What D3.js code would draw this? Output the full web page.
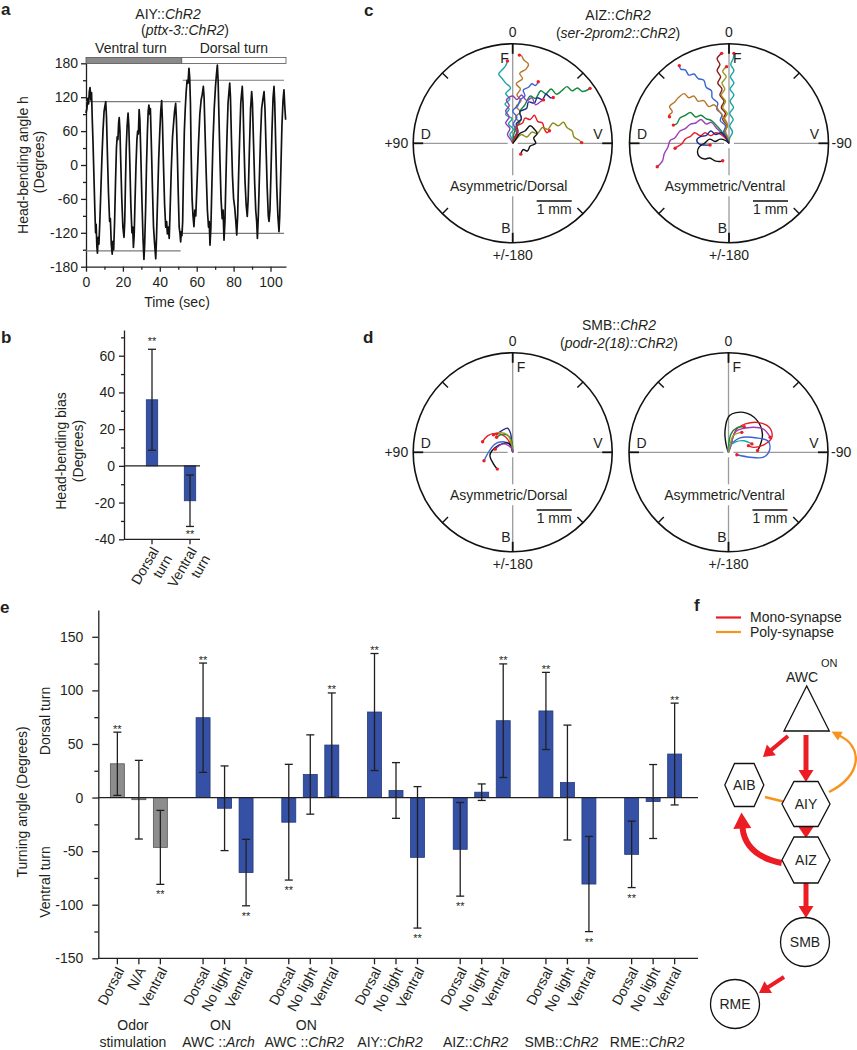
<!DOCTYPE html>
<html><head><meta charset="utf-8">
<script src="https://cdn.jsdelivr.net/npm/d3@7"></script>
<style>
body{margin:0;background:#fff}
svg{display:block;font-family:"Liberation Sans",Arial,Helvetica,sans-serif}
</style></head><body>
<svg id="fig" width="857" height="1050"></svg>
<script>
// ---------------- DATA ----------------
// Panel a: head-bending trace (time s, angle deg)
const traceT = [0,0.5,1,1.4,1.8,2.2,2.6,3,3.4,3.8,4.3,4.8,5.2,5.5,5.9,6.2,6.6,7,7.5,8,8.6,9.2,9.8,10.3,10.7,11.1,11.6,12.2,12.8,13.2,13.7,14.2,14.6,15,15.5,16,16.5,16.9,17.3,17.7,18,18.4,18.8,19.4,20,20.6,21,21.4,21.8,22.3,22.8,23.2,23.7,24.3,24.9,25.3,25.7,26.1,26.6,27.1,27.6,28,28.4,28.8,29.2,29.7,30.3,30.9,31.4,31.8,32.3,32.8,33.3,33.7,34.1,34.5,34.9,35.4,36,36.6,37.2,37.8,38.2,38.8,39.4,40,40.5,41,41.4,42,42.6,43.2,43.7,44.1,44.6,45.1,45.5,46.2,46.9,47.5,48,48.6,49,49.5,50,50.5,50.9,51.3,51.7,
52,52.4,52.8,53.3,53.8,54.3,54.8,55.3,55.8,56.2,56.6,57,57.5,58,58.5,59,59.5,60.2,61,61.7,62.4,63,63.6,64,64.5,65.2,65.8,66.4,66.8,67.2,67.7,68.2,68.8,69.5,70.2,70.7,71.2,71.6,72.1,72.6,73.2,73.8,74.3,74.8,75.3,75.8,76.4,77,77.5,77.9,78.3,78.8,79.4,80,80.6,81.2,81.7,82.2,82.7,83.3,83.9,84.3,84.7,85.1,85.6,86.2,86.8,87.4,87.9,88.5,89.2,89.8,90.2,90.8,91.4,92,92.5,92.9,93.4,94,94.6,95.2,95.8,96.5,97,97.6,98.2,98.8,99.2,99.7,100.2,100.8,101.4,101.9,102.3,102.8,103.4,104,104.6,105,105.6,106.2,106.8,107.3,107.8,108.2];
const traceH = [92,100,118,108,130,137,115,128,80,40,-20,-80,-120,-105,-145,-156,-128,-140,-100,-50,10,60,95,105,112,85,20,-50,-100,-95,-140,-158,-135,-150,-100,-30,30,50,45,75,84,60,10,-60,-110,-128,-100,-30,30,70,92,70,10,-70,-120,-110,-146,-125,-60,0,45,60,55,98,80,20,-60,-130,-167,-140,-80,0,60,95,106,90,100,40,-40,-110,-140,-166,-130,-60,10,60,95,114,80,0,-70,-110,-100,-122,-110,-130,-90,-10,50,75,95,109,80,20,-50,-110,-120,-136,-118,
-125,-100,-20,60,100,130,150,145,171,155,110,20,-60,-90,-109,-80,-90,-30,40,90,115,125,139,120,60,-20,-80,-110,-100,-142,-110,-40,40,100,140,160,177,150,80,10,-60,-95,-80,-133,-100,-30,50,110,130,145,120,50,-20,-60,-75,-100,-124,-90,-20,50,110,125,139,110,40,-30,-70,-91,-60,20,100,130,110,40,-30,-80,-100,-130,-90,-20,50,100,115,130,100,30,-40,-90,-100,-80,-20,60,120,139,110,40,-40,-90,-118,-90,-10,70,115,133,100,80];
const aYMajor = [-180,-120,-60,0,60,120,180];
const aYMinor = [-150,-90,-30,30,90,150];
const aXMajor = [0,20,40,60,80,100];
const aXMinor = [10,30,50,70,90];
const aPhaseBounds = [0, 51.9, 108.4];          // ventral | dorsal stimulation bar
const aPhaseNames = ["Ventral turn", "Dorsal turn"];
const aRefStart = [0, 52.4], aRefEnd = [51.3, 107.3];
const aRefHigh = [112, 150], aRefLow = [-152, -121];

// Panel b
const bCats = [["Dorsal","turn"],["Ventral","turn"]];
const bMeans = [36, -19];
const bSD = [27.5, 14];
const bYMajor = [-40,-20,0,20,40,60];
const bYMinor = [-30,-10,10,30,50,70];

// Panel c / d trajectories (mm, x right, y up, relative to start point)
const cLeftTracks = [
 [[0,0.1],[-0.08,0.25],[0.02,0.4],[-0.12,0.55],[-0.02,0.7],[-0.2,0.82],[-0.1,0.98],[-0.22,1.12],[-0.08,1.27],[-0.2,1.42],[-0.06,1.58],[-0.2,1.72],[-0.3,1.85],[-0.4,1.98],[-0.3,2.1],[-0.2,2.22],[-0.15,2.35]],
 [[0.05,0.1],[0.15,0.25],[0.05,0.42],[0.2,0.58],[0.08,0.75],[0.22,0.9],[0.1,1.05],[0.24,1.22],[0.12,1.38],[0.22,1.55],[0.1,1.7],[0.28,1.85],[0.2,2.0],[0.38,2.12],[0.45,2.26],[0.32,2.38],[0.25,2.5],[0.19,2.52]],
 [[0.04,0.29],[0.15,0.55],[0.25,0.70],[0.20,0.90],[0.35,1.10],[0.50,1.35],[0.65,1.28],[0.80,1.50],[0.95,1.42],[1.10,1.55],[1.25,1.40],[1.40,1.50],[1.55,1.62],[1.70,1.50],[1.85,1.58],[2.00,1.48],[2.21,1.57]],
 [[0.05,0.15],[0.12,0.35],[0.02,0.55],[0.12,0.75],[0.0,0.92],[0.15,1.08],[0.22,1.25],[0.35,1.35],[0.3,1.52],[0.45,1.6],[0.55,1.7],[0.65,1.65],[0.73,1.76]],
 [[0.05,0.15],[0.15,0.35],[0.1,0.55],[0.25,0.7],[0.2,0.9],[0.4,1.0],[0.45,1.18],[0.62,1.15],[0.7,1.3],[0.85,1.25],[0.95,1.4],[1.08,1.3],[1.16,1.31]],
 [[-0.05,0.1],[-0.15,0.25],[-0.08,0.42],[-0.2,0.58],[-0.1,0.75],[-0.2,0.92],[-0.1,1.08],[-0.18,1.24],[0.0,1.35],[0.12,1.25],[0.25,1.38],[0.4,1.22],[0.55,1.3],[0.65,1.1],[0.78,1.18],[0.88,1.24]],
 [[0.05,0.15],[0.15,0.32],[0.1,0.48],[0.28,0.58],[0.35,0.72],[0.5,0.68],[0.62,0.8],[0.72,0.62],[0.85,0.58],[0.9,0.42],[0.98,0.3],[1.05,0.36]],
 [[0.1,0.12],[0.25,0.25],[0.4,0.18],[0.55,0.32],[0.7,0.28],[0.85,0.45],[1.0,0.4],[1.15,0.58],[1.3,0.5],[1.45,0.6],[1.55,0.45],[1.7,0.35],[1.75,0.18],[1.88,0.1],[1.97,0.02]],
 [[0.08,0.1],[0.2,0.28],[0.35,0.35],[0.5,0.5],[0.62,0.4],[0.7,0.28],[0.6,0.15],[0.66,0.0],[0.5,-0.08],[0.42,-0.22],[0.3,-0.18],[0.23,-0.31]]
];
const cRightTracks = [
 [[0.02,0.15],[0.1,0.32],[0.02,0.5],[0.12,0.68],[0.02,0.85],[0.13,1.02],[0.03,1.2],[0.14,1.38],[0.03,1.55],[0.14,1.72],[0.04,1.9],[0.14,2.08],[0.05,2.25],[0.12,2.42],[0.14,2.57]],
 [[-0.05,0.15],[-0.14,0.32],[-0.06,0.5],[-0.18,0.68],[-0.1,0.85],[-0.22,1.02],[-0.14,1.2],[-0.26,1.38],[-0.2,1.55],[-0.32,1.72],[-0.24,1.9],[-0.34,2.08],[-0.26,2.25],[-0.34,2.42],[-0.21,2.57]],
 [[-0.03,0.15],[-0.12,0.32],[-0.04,0.5],[-0.14,0.68],[-0.05,0.85],[-0.18,1.02],[-0.1,1.2],[-0.22,1.38],[-0.12,1.55],[-0.2,1.72],[-0.08,1.9],[-0.18,2.05],[-0.07,2.19]],
 [[-0.05,0.15],[-0.15,0.32],[-0.1,0.5],[-0.25,0.65],[-0.2,0.82],[-0.35,0.98],[-0.32,1.15],[-0.48,1.3],[-0.5,1.5],[-0.65,1.6],[-0.72,1.8],[-0.88,1.85],[-1.0,1.98],[-1.15,1.95],[-1.25,2.1],[-1.38,2.12],[-1.42,2.22]],
 [[-0.03,0.15],[-0.1,0.35],[-0.05,0.55],[-0.16,0.75],[-0.3,0.95],[-0.42,1.1],[-0.58,1.05],[-0.72,1.22],[-0.88,1.2],[-1.0,1.35],[-1.15,1.3],[-1.28,1.42],[-1.45,1.3],[-1.55,1.18],[-1.7,1.05],[-1.62,0.9],[-1.72,0.8],[-1.7,0.76]],
 [[-0.07,0.12],[-0.2,0.28],[-0.35,0.42],[-0.5,0.6],[-0.65,0.55],[-0.8,0.68],[-0.95,0.58],[-1.1,0.55],[-1.25,0.42],[-1.4,0.35],[-1.55,0.15],[-1.68,0.08],[-1.75,-0.12],[-1.85,-0.3],[-1.9,-0.5],[-2.05,-0.67]],
 [[-0.08,0.15],[-0.22,0.35],[-0.35,0.5],[-0.5,0.65],[-0.65,0.7],[-0.8,0.8],[-0.95,0.75],[-1.1,0.88],[-1.25,0.8],[-1.4,0.72],[-1.5,0.55],[-1.59,0.52]],
 [[-0.08,0.12],[-0.22,0.25],[-0.38,0.3],[-0.52,0.22],[-0.68,0.3],[-0.82,0.22],[-0.98,0.3],[-1.1,0.2],[-1.25,0.12],[-1.35,-0.02],[-1.45,-0.08],[-1.54,-0.14]],
 [[-0.1,0.08],[-0.25,0.12],[-0.4,0.05],[-0.55,0.12],[-0.7,0.0],[-0.85,-0.1],[-0.9,-0.25],[-0.85,-0.38],[-0.7,-0.45],[-0.55,-0.42],[-0.4,-0.5],[-0.26,-0.52],[-0.18,-0.5]],
 [[-0.08,0.15],[-0.22,0.3],[-0.38,0.25],[-0.52,0.35],[-0.66,0.22],[-0.8,0.2],[-0.92,0.1],[-0.85,-0.02],[-0.7,-0.05],[-0.54,-0.05]]
];
const dLeftTracks = [
 [[-0.03,0.16],[-0.22,0.45],[-0.50,0.54],[-0.72,0.47],[-0.86,0.30]],
 [[-0.06,0.21],[-0.27,0.30],[-0.50,0.24],[-0.68,0.02],[-0.82,-0.24]],
 [[-0.12,0.26],[-0.46,0.16],[-0.65,-0.08],[-0.55,-0.33],[-0.44,-0.48]],
 [[-0.03,0.26],[-0.06,0.54],[-0.15,0.69],[-0.31,0.62],[-0.46,0.52]],
 [[0,0.16],[-0.08,0.43],[-0.27,0.52],[-0.46,0.43]],
 [[-0.03,0.24],[-0.15,0.50],[-0.41,0.56],[-0.55,0.50]],
 [[-0.02,0.11],[-0.27,0.24],[-0.50,0.09]]
];
const dRightTracks = [
 [[-0.05,0.14],[-0.10,0.62],[0.03,1.05],[0.43,1.14],[0.81,0.92],[0.97,0.52],[0.90,0.19],[0.83,0.05]],
 [[0.05,0.14],[0.24,0.67],[0.76,0.86],[1.17,0.71],[1.24,0.43],[1.02,0.22],[0.71,0.14],[0.57,0.19]],
 [[0,0.14],[0.33,0.41],[0.81,0.41],[1.14,0.31],[1.17,0.05],[1.00,-0.14],[0.62,-0.14],[0.24,-0.07]],
 [[0.05,0.14],[0.22,0.60],[0.62,0.71],[1.00,0.66],[1.19,0.43]],
 [[0,0.14],[0.07,0.52],[0.26,0.71],[0.45,0.73]],
 [[0,0.14],[0.19,0.29],[0.43,0.33],[0.67,0.24]],
 [[0.03,0.14],[0.14,0.48],[0.38,0.57]]
];

// Panel e
const eGroupsTop = ["Odor","ON","ON","","","",""];
const eGroupsBottom = [[["stimulation"]],[["AWC ::"],["Arch",1]],[["AWC ::"],["ChR2",1]],[["AIY::"],["ChR2",1]],[["AIZ::"],["ChR2",1]],[["SMB::"],["ChR2",1]],[["RME::"],["ChR2",1]]];
const eConds = [["Dorsal","N/A","Ventral"],["Dorsal","No light","Ventral"],["Dorsal","No light","Ventral"],["Dorsal","No light","Ventral"],["Dorsal","No light","Ventral"],["Dorsal","No light","Ventral"],["Dorsal","No light","Ventral"]];
const eMeans = [31.5,-2,-46.5, 74.5,-10,-70, -23,21.5,49, 79.8,6.6,-55.8, -48.3,5,71.7, 80.8,14,-80.7, -53,-3.7,40.6];
const eSD    = [29.5,36.7,34.5, 51,39.5,31, 54,37,48.6, 54.6,26,66, 43.7,7.7,53, 36,53.6,44.4, 31,34.5,47.5];
const eSig   = [1,0,1, 1,0,1, 1,0,1, 1,0,1, 1,0,1, 1,0,1, 1,0,1];
const eYMajor = [-150,-100,-50,0,50,100,150];
const eYMinor = [-125,-75,-25,25,75,125];

// Panel f
const fLegend = [["Mono-synapse","mono"],["Poly-synapse","poly"]];
const fHexNodes = ["AIB","AIY","AIZ"];
const fCircleNodes = ["SMB","RME"];

// ---------------- DRAWING ----------------
const svg = d3.select("#fig");
svg.append("rect").attr("width",857).attr("height",1050).attr("fill","#fff");
const INK = "#231f20";
const BLUE = "#3451a6", BLUE_EDGE = "#23397a";
const GRAY = "#8d8d8d", GRAY_EDGE = "#555";
const RED = "#ec1c24", ORANGE = "#f7941d";

function label(x, y, parts, o = {}) {
  const t = svg.append("text").attr("x", x).attr("y", y)
    .attr("font-size", o.size || 14).attr("text-anchor", o.anchor || "middle")
    .attr("fill", INK);
  if (o.weight) t.attr("font-weight", o.weight);
  if (o.transform) t.attr("transform", o.transform);
  const arr = typeof parts === "string" ? [[parts]] : parts;
  arr.forEach(p => t.append("tspan").text(p[0]).attr("font-style", p[1] ? "italic" : null));
  return t;
}
function styleAxis(g, size) {
  g.attr("font-family", null).attr("font-size", null);
  g.selectAll("path.domain").attr("stroke", INK).attr("stroke-width", 1.3);
  g.selectAll(".tick line").attr("stroke", INK).attr("stroke-width", 1.3);
  g.selectAll(".tick text").attr("font-size", size || 14).attr("fill", INK);
}

// ===== Panel a =====
const aX = d3.scaleLinear().domain([0,108.4]).range([86,286]);
const aY = d3.scaleLinear().domain([-180,180]).range([266.7,63.3]);
label(1, 15, "a", {anchor:"start", weight:"bold", size:17});
label(168, 19, [["AIY::"],["ChR2",1]]);
label(185, 35, [["("],["pttx-3::ChR2",1],[")"]]);
aPhaseNames.forEach((n,i) => label((aX(aPhaseBounds[i])+aX(aPhaseBounds[i+1]))/2 + (i===0?-3:0), 53, n));
aPhaseNames.forEach((n,i) => svg.append("rect")
  .attr("x", aX(aPhaseBounds[i])).attr("y", 57.5)
  .attr("width", aX(aPhaseBounds[i+1]) - aX(aPhaseBounds[i])).attr("height", 6)
  .attr("fill", i===0 ? "#8a8a8a" : "#fff").attr("stroke", "#555").attr("stroke-width", 0.8));
{
  const gy = svg.append("g").attr("transform","translate(86,0)")
    .call(d3.axisLeft(aY).tickValues(aYMajor).tickSize(5).tickSizeOuter(0).tickPadding(3).tickFormat(d => String(d)));
  styleAxis(gy);
  const gy2 = svg.append("g").attr("transform","translate(86,0)")
    .call(d3.axisLeft(aY).tickValues(aYMinor).tickSize(3).tickFormat(""));
  styleAxis(gy2); gy2.select("path.domain").remove();
  const gx = svg.append("g").attr("transform","translate(0,266.7)")
    .call(d3.axisBottom(aX).tickValues(aXMajor).tickSize(5).tickSizeOuter(0).tickPadding(5).tickFormat(d => String(d)));
  styleAxis(gx);
  const gx2 = svg.append("g").attr("transform","translate(0,266.7)")
    .call(d3.axisBottom(aX).tickValues(aXMinor).tickSize(3).tickFormat(""));
  styleAxis(gx2); gx2.select("path.domain").remove();
}
aRefStart.forEach((s,i) => {
  [aRefHigh[i], aRefLow[i]].forEach(v => svg.append("line")
    .attr("x1", aX(s)).attr("x2", aX(aRefEnd[i])).attr("y1", aY(v)).attr("y2", aY(v))
    .attr("stroke", "#7a7a7a").attr("stroke-width", 1.2));
});
svg.append("path").datum(traceT.map((t,i) => [t, traceH[i]]))
  .attr("d", d3.line().x(d => aX(d[0])).y(d => aY(d[1])))
  .attr("fill","none").attr("stroke","#111").attr("stroke-width",1.7).attr("stroke-linejoin","round");
label(0, 0, "Head-bending angle h", {transform:"translate(28,165) rotate(-90)"});
label(0, 0, "(Degrees)", {transform:"translate(44,162) rotate(-90)"});
label(177, 307, "Time (sec)");

// ===== Panel b =====
const bY = d3.scaleLinear().domain([-40,74]).range([539.3,330]);
const bX = d3.scaleBand().domain([0,1]).range([133,209]).paddingInner(0.7).paddingOuter(0.35);
label(1, 343, "b", {anchor:"start", weight:"bold", size:17});
{
  const gy = svg.append("g").attr("transform","translate(124,0)")
    .call(d3.axisLeft(bY).tickValues(bYMajor).tickSize(5).tickSizeOuter(0).tickPadding(4).tickFormat(d => String(d)));
  styleAxis(gy);
  const gy2 = svg.append("g").attr("transform","translate(124,0)")
    .call(d3.axisLeft(bY).tickValues(bYMinor).tickSize(3).tickFormat(""));
  styleAxis(gy2); gy2.select("path.domain").remove();
  svg.append("line").attr("x1",124).attr("x2",200).attr("y1",bY(-40)).attr("y2",bY(-40)).attr("stroke",INK).attr("stroke-width",1.3);
}
bMeans.forEach((m,i) => {
  const x = bX(i), w = bX.bandwidth(), cx = x + w/2;
  svg.append("rect").attr("x", x).attr("width", w)
    .attr("y", bY(Math.max(0,m))).attr("height", Math.abs(bY(m)-bY(0)))
    .attr("fill", BLUE).attr("stroke", BLUE_EDGE).attr("stroke-width", 0.8);
  const hi = m + bSD[i], lo = m - bSD[i];
  svg.append("line").attr("x1",cx).attr("x2",cx).attr("y1",bY(hi)).attr("y2",bY(lo)).attr("stroke",INK).attr("stroke-width",1.3);
  [hi,lo].forEach(v => svg.append("line").attr("x1",cx-4).attr("x2",cx+4).attr("y1",bY(v)).attr("y2",bY(v)).attr("stroke",INK).attr("stroke-width",1.3));
  if (m > 0) label(cx, bY(hi) - 4, "**", {size:11});
  else label(cx, bY(lo) + 12, "**", {size:11});
  svg.append("line").attr("x1",cx).attr("x2",cx).attr("y1",bY(-40)).attr("y2",bY(-40)+5).attr("stroke",INK).attr("stroke-width",1.3);
  const t = svg.append("text").attr("text-anchor","end").attr("font-size",14).attr("fill",INK)
    .attr("transform",`translate(${cx+3},${bY(-40)+9}) rotate(-60)`);
  t.append("tspan").attr("x",0).attr("dy","0.35em").text(bCats[i][0]);
  t.append("tspan").attr("x",0).attr("dy","1.1em").text(bCats[i][1]);
});
svg.append("line").attr("x1",124).attr("x2",200).attr("y1",bY(0)).attr("y2",bY(0)).attr("stroke",INK).attr("stroke-width",1.3);
label(0, 0, "Head-bending bias", {transform:"translate(66,451) rotate(-90)"});
label(0, 0, "(Degrees)", {transform:"translate(83,451) rotate(-90)"});

// ===== Panels c, d =====
const R = 99.5;
const mm = d3.scaleLinear().domain([0,1]).range([0,35]);
const cLeftColors  = ["#1aa5a5","#b5782b","#11883c","#3b63d4","#1f2a8a","#8e3fb3","#e3202a","#8c8c1e","#111111"];
const cRightColors = ["#1aa5a5","#8b1a1a","#9a9a1e","#3b63d4","#b5782b","#9b3fb8","#11883c","#e3202a","#111111","#1f2a8a"];
const dLeftColors  = ["#e3202a","#3b6fd4","#111111","#1f2a8a","#11883c","#9a9a1e","#9b3fb8"];
const dRightColors = ["#111111","#e3202a","#3b63d4","#9b3fb8","#11883c","#1aa5a5","#9a9a1e"];

function polarPanel(cx, cy, tracks, colors, o) {
  const g = svg.append("g");
  const gap = 5;
  [[cx-R,cy,cx-gap,cy],[cx+gap,cy,cx+R,cy],[cx,cy-R,cx,cy-gap],[cx,cy+gap,cx,cy+R]].forEach(s =>
    g.append("line").attr("x1",s[0]).attr("y1",s[1]).attr("x2",s[2]).attr("y2",s[3]).attr("stroke","#9b9b9b").attr("stroke-width",1.3));
  const line = d3.line().x(p => cx + mm(p[0])).y(p => cy - mm(p[1])).curve(d3.curveCatmullRom.alpha(0.5));
  tracks.forEach((t,i) => {
    g.append("path").attr("d", line([[0,0]].concat(t))).attr("fill","none")
      .attr("stroke", colors[i % colors.length]).attr("stroke-width", 1.4).attr("stroke-linejoin","round");
  });
  tracks.forEach(t => {
    const p = t[t.length-1];
    g.append("circle").attr("cx", cx + mm(p[0])).attr("cy", cy - mm(p[1])).attr("r", 1.7).attr("fill", "#ee1c25");
  });
  g.append("circle").attr("cx",cx).attr("cy",cy).attr("r",R).attr("fill","none").attr("stroke","#111").attr("stroke-width",1.6);
  [0,90,180,270].forEach(a => {
    const rad = a*Math.PI/180;
    g.append("line").attr("x1",cx+R*Math.sin(rad)).attr("y1",cy-R*Math.cos(rad))
      .attr("x2",cx+(R-10)*Math.sin(rad)).attr("y2",cy-(R-10)*Math.cos(rad)).attr("stroke","#111").attr("stroke-width",1.8);
  });
  [45,135,225,315].forEach(a => {
    const rad = a*Math.PI/180;
    g.append("line").attr("x1",cx+R*Math.sin(rad)).attr("y1",cy-R*Math.cos(rad))
      .attr("x2",cx+(R-8)*Math.sin(rad)).attr("y2",cy-(R-8)*Math.cos(rad)).attr("stroke","#111").attr("stroke-width",1.4);
  });
  const asym = label(cx-4, cy+47.5, o.asym);
  const len = asym.node().getComputedTextLength();
  svg.insert("rect", () => asym.node()).attr("x", cx-4-len/2-2).attr("y", cy+32).attr("width", len+4).attr("height", 21).attr("fill","#fff");
  label(cx, cy-106.5, "0");
  label(cx, cy+116.5, "+/-180");
  label(o.fRight ? cx+4 : cx-4, cy-80, "F", {anchor: o.fRight ? "start" : "end"});
  label(cx-92, cy-4, "D", {anchor:"start"});
  label(cx+90, cy-4, "V", {anchor:"end"});
  label(cx-2, cy+90, "B", {anchor:"end"});
  if (o.left) label(cx-R-5, cy+5, "+90", {anchor:"end"});
  else label(cx+R+3, cy+5, "-90", {anchor:"start"});
  g.append("line").attr("x1",cx+24).attr("x2",cx+24+mm(1)).attr("y1",cy+57.7).attr("y2",cy+57.7).attr("stroke","#111").attr("stroke-width",1.3);
  label(cx+24+mm(1)/2, cy+70.5, "1 mm");
}
label(364, 16, "c", {anchor:"start", weight:"bold", size:17});
label(618, 20, [["AIZ::"],["ChR2",1]]);
label(618, 38, [["("],["ser-2prom2::ChR2",1],[")"]]);
polarPanel(512.7, 143.3, cLeftTracks, cLeftColors, {asym:"Asymmetric/Dorsal", left:true, fRight:false});
polarPanel(729, 143.3, cRightTracks, cRightColors, {asym:"Asymmetric/Ventral", left:false, fRight:true});
label(363, 343, "d", {anchor:"start", weight:"bold", size:17});
label(619, 330, [["SMB::"],["ChR2",1]]);
label(619, 348, [["("],["podr-2(18)::ChR2",1],[")"]]);
polarPanel(512.7, 452.3, dLeftTracks, dLeftColors, {asym:"Asymmetric/Dorsal", left:true, fRight:true});
polarPanel(728.5, 452.3, dRightTracks, dRightColors, {asym:"Asymmetric/Ventral", left:false, fRight:true});

// ===== Panel e =====
const eY = d3.scaleLinear().domain([-150,175]).range([958.3,610]);
const eG = d3.scaleBand().domain(d3.range(7)).range([96,696]);
const eS = d3.scaleBand().domain([0,1,2]).range([-32.25,32.25]).paddingInner(0.35).paddingOuter(0.175);
label(0, 613, "e", {anchor:"start", weight:"bold", size:17});
{
  const gy = svg.append("g").attr("transform","translate(98.3,0)")
    .call(d3.axisLeft(eY).tickValues(eYMajor).tickSize(6).tickSizeOuter(0).tickPadding(9).tickFormat(d => String(d)));
  styleAxis(gy);
  const gy2 = svg.append("g").attr("transform","translate(98.3,0)")
    .call(d3.axisLeft(eY).tickValues(eYMinor).tickSize(4).tickFormat(""));
  styleAxis(gy2); gy2.select("path.domain").remove();
  svg.append("line").attr("x1",98.3).attr("x2",698).attr("y1",eY(-150)).attr("y2",eY(-150)).attr("stroke",INK).attr("stroke-width",1.3);
}
eMeans.forEach((m,k) => {
  const gi = Math.floor(k/3), si = k % 3;
  const x = eG(gi) + eG.bandwidth()/2 + eS(si), w = eS.bandwidth(), cx = x + w/2;
  svg.append("rect").attr("x", x).attr("width", w)
    .attr("y", eY(Math.max(0,m))).attr("height", Math.abs(eY(m)-eY(0)))
    .attr("fill", gi===0 ? GRAY : BLUE).attr("stroke", gi===0 ? GRAY_EDGE : BLUE_EDGE).attr("stroke-width", 0.8);
  const hi = m + eSD[k], lo = m - eSD[k];
  svg.append("line").attr("x1",cx).attr("x2",cx).attr("y1",eY(hi)).attr("y2",eY(lo)).attr("stroke",INK).attr("stroke-width",1.3);
  [hi,lo].forEach(v => svg.append("line").attr("x1",cx-4).attr("x2",cx+4).attr("y1",eY(v)).attr("y2",eY(v)).attr("stroke",INK).attr("stroke-width",1.3));
  if (eSig[k]) {
    if (m > 0) label(cx, eY(hi) + 0.5, "**", {size:11});
    else label(cx, eY(lo) + 14, "**", {size:11});
  }
  svg.append("line").attr("x1",cx).attr("x2",cx).attr("y1",eY(-150)).attr("y2",eY(-150)+6).attr("stroke",INK).attr("stroke-width",1.3);
  label(0, 0, eConds[gi][si], {anchor:"end", size:14, transform:`translate(${cx+3},${eY(-150)+10}) rotate(-62)`}).attr("dy","0.35em");
});
svg.append("line").attr("x1",98.3).attr("x2",698).attr("y1",eY(0)).attr("y2",eY(0)).attr("stroke",INK).attr("stroke-width",1.3);
eGroupsTop.forEach((t,gi) => {
  const c = eG(gi) + eG.bandwidth()/2 - 6;
  if (t) label(c + (gi===0 ? 0 : 2), 1030, t);
  label(c, 1046.5, eGroupsBottom[gi]);
});
label(0, 0, "Turning angle (Degrees)", {transform:"translate(27,802) rotate(-90)"});
label(0, 0, "Dorsal turn", {transform:"translate(50,721) rotate(-90)"});
label(0, 0, "Ventral turn", {transform:"translate(50,882) rotate(-90)"});

// ===== Panel f =====
label(694, 611, "f", {anchor:"start", weight:"bold", size:17});
fLegend.forEach((l,i) => {
  const y = 617.5 + i*14.5;
  svg.append("line").attr("x1",716).attr("x2",741).attr("y1",y).attr("y2",y)
    .attr("stroke", l[1]==="mono" ? RED : ORANGE).attr("stroke-width",2.2);
  label(750, y + 4.5, l[0], {anchor:"start", size:14});
});
function arrowHead(tipX, tipY, fromX, fromY, len, halfW, color) {
  const a = Math.atan2(tipY-fromY, tipX-fromX);
  const bx = tipX - len*Math.cos(a), by = tipY - len*Math.sin(a);
  const px = -Math.sin(a)*halfW, py = Math.cos(a)*halfW;
  svg.append("polygon").attr("points", `${tipX},${tipY} ${bx+px},${by+py} ${bx-px},${by-py}`).attr("fill", color);
}
function straightArrow(x1,y1,x2,y2,w,len,halfW,color) {
  const a = Math.atan2(y2-y1, x2-x1);
  svg.append("line").attr("x1",x1).attr("y1",y1).attr("x2",x2-(len-1)*Math.cos(a)).attr("y2",y2-(len-1)*Math.sin(a))
    .attr("stroke",color).attr("stroke-width",w);
  arrowHead(x2,y2,x1,y1,len,halfW,color);
}
const nodeStyle = s => s.attr("fill","#fff").attr("stroke","#111").attr("stroke-width",1.3);
nodeStyle(svg.append("polygon").attr("points","806.7,686 784,731 829.3,731"));
label(802, 682, "AWC", {size:14});
label(821, 667, "ON", {anchor:"start", size:11});
const hexPos = {AIB:[744.3,785,39,43], AIY:[806,804,48,45], AIZ:[806,860,48,46]};
straightArrow(788, 736, 763, 757, 4, 11, 7, RED);
straightArrow(806, 735, 806, 782, 5, 12, 7.5, RED);
straightArrow(806, 827, 806, 838, 5, 11, 7.5, RED);
straightArrow(806, 883, 806, 918, 5, 12, 7.5, RED);
straightArrow(784, 977, 759, 993, 4, 11, 7, RED);
svg.append("path").attr("d","M781.7,863 C762,859 745,850 742.5,828").attr("fill","none").attr("stroke",RED).attr("stroke-width",6);
arrowHead(741.5, 812.5, 742.3, 828, 16, 9, RED);
svg.append("path").attr("d","M829,792 C862,776 864,746 838,735").attr("fill","none").attr("stroke",ORANGE).attr("stroke-width",2.4);
arrowHead(831.5, 731.5, 840, 736, 10, 5, ORANGE);
svg.append("line").attr("x1",765).attr("y1",797).attr("x2",783).attr("y2",801.5).attr("stroke",ORANGE).attr("stroke-width",2.4);
fHexNodes.forEach(n => {
  const [cx,cy,w,h] = hexPos[n];
  nodeStyle(svg.append("polygon").attr("points",
    [[cx-w/2,cy],[cx-w/4,cy-h/2],[cx+w/4,cy-h/2],[cx+w/2,cy],[cx+w/4,cy+h/2],[cx-w/4,cy+h/2]].map(p=>p.join(",")).join(" ")));
  label(cx, cy+5, n, {size:14});
});
const circPos = {SMB:[805,942,24.5], RME:[735,1004,24.5]};
fCircleNodes.forEach(n => {
  const [cx,cy,r] = circPos[n];
  nodeStyle(svg.append("circle").attr("cx",cx).attr("cy",cy).attr("r",r));
  label(cx, cy+5, n, {size:14});
});
</script>
</body></html>
